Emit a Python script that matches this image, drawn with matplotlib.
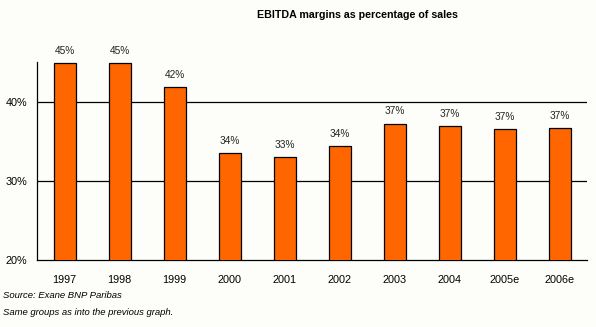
import matplotlib.pyplot as plt
import numpy as np

years = ['1997', '1998', '1999', '2000', '2001', '2002', '2003', '2004', '2005e', '2006e']
margins = [45.0, 45.0, 41.9, 33.6, 33.0, 34.4, 37.3, 37.0, 36.6, 36.7]
yticks = [20, 30, 40]

bg = '#fdfef9'
orange = '#ff6600'

fig = plt.figure(figsize=(5.96, 3.27), dpi=100, facecolor=bg)
ax = fig.add_axes([0.0621, 0.2049, 0.9228, 0.6055], facecolor=bg)

x = np.arange(len(years))
ax.bar(x, margins, width=0.4, bottom=0, color=orange, edgecolor='black',
       linewidth=0.9, zorder=3)

for xi, v in zip(x, margins):
    ax.text(xi, v + 0.9, f'{v:.0f}%', ha='center', va='bottom',
            fontsize=7.3, color='#222222', family='Liberation Sans')

for t in yticks[1:]:
    ax.axhline(t, color='black', linewidth=0.9, zorder=1)

ax.set_xlim(-0.5, len(years) - 0.5)
ax.set_ylim(20, 45.1)
ax.set_xticks(x)
ax.set_xticklabels(years, fontsize=7.8, family='Liberation Sans')
ax.set_yticks(yticks)
ax.set_yticklabels([f'{t}%' for t in yticks], fontsize=7.8, family='Liberation Sans')
ax.tick_params(axis='x', length=0, pad=11)
ax.tick_params(axis='y', length=0, pad=7)

for side in ['top', 'right']:
    ax.spines[side].set_visible(False)
for side in ['left', 'bottom']:
    ax.spines[side].set_color('black')
    ax.spines[side].set_linewidth(0.9)

fig.text(0.599, 0.954, 'EBITDA margins as percentage of sales', ha='center',
         va='center', fontsize=7.7, fontweight='bold', family='Liberation Sans')
fig.text(0.005, 0.095, 'Source: Exane BNP Paribas', ha='left', va='center',
         fontsize=6.8, style='italic', family='Liberation Sans')
fig.text(0.005, 0.043, 'Same groups as into the previous graph.', ha='left',
         va='center', fontsize=6.8, style='italic', family='Liberation Sans')

fig.savefig('out.png', dpi=100, facecolor=bg)
